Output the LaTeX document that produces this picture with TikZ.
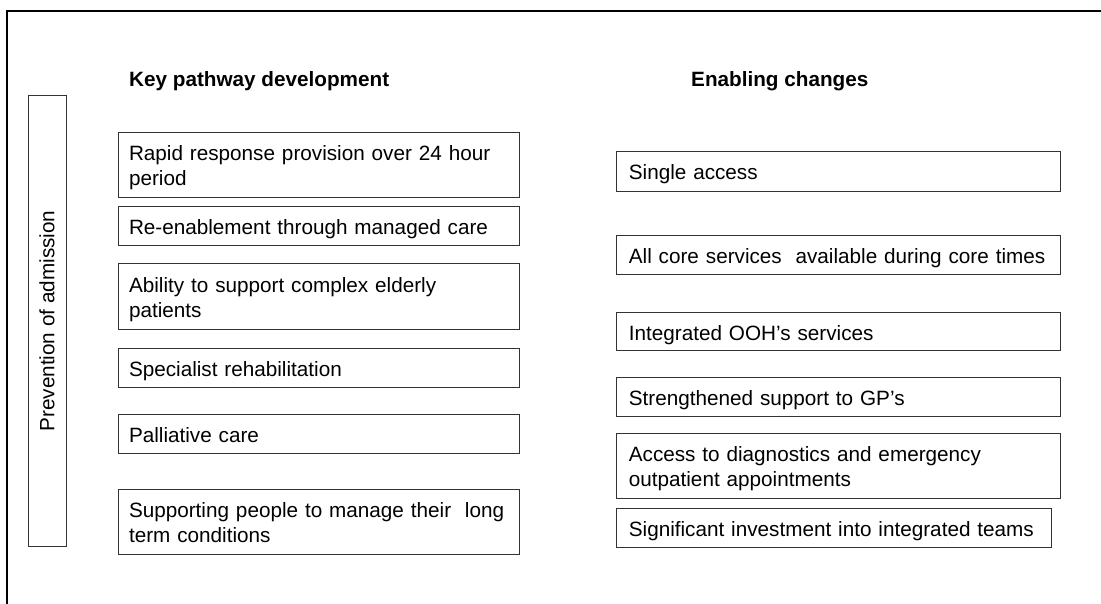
\documentclass[tikz,border=0pt]{standalone}
\usepackage{fontspec}
\setmainfont{Liberation Sans}
\usepackage{tikz}

\begin{document}
\begin{tikzpicture}[x=1pt,y=-1pt,
  font=\fontsize{20.7pt}{25pt}\selectfont,
  pathbox/.style={draw=black!80,line width=1pt,text width=379pt,inner xsep=11pt,inner ysep=0pt,align=left,text height=28pt,text depth=11pt},
  enablebox/.style={draw=black!80,line width=1pt,text width=420pt,inner xsep=12pt,inner ysep=0pt,align=left,text height=28pt,text depth=11pt},
  tall/.style={text depth=37pt},
  heading/.style={font=\fontsize{20.7pt}{25pt}\selectfont\bfseries,anchor=base west,inner sep=0pt}]
\useasboundingbox (0,0) rectangle (1101,604);
\draw[line width=2pt] (7,604) -- (7,11) -- (1101,11);

\node[heading] (keyhead) at (129,87) {Key pathway development};
\node[heading] (enablehead) at (691,87) {Enabling changes};

\node[draw=black!80,line width=1pt,rotate=90,minimum width=450pt,minimum height=38pt,inner sep=0pt] (prevention) at (47,321) {Prevention of admission};

\node[pathbox,tall] (rapid) at (318.5,165.5) {Rapid response provision over 24 hour\\period};
\node[pathbox] (reenable) at (318.5,226.5) {Re-enablement through managed care};
\node[pathbox,tall] (complex) at (318.5,296.5) {Ability to support complex elderly\\patients};
\node[pathbox] (rehab) at (318.5,367.5) {Specialist rehabilitation};
\node[pathbox] (palliative) at (318.5,433.5) {Palliative care};
\node[pathbox,tall] (longterm) at (318.5,521.5) {Supporting people to manage their\ \ long\\term conditions};

\node[enablebox,text depth=12pt] (single) at (838.85,171.5) {Single access};
\node[enablebox] (coretimes) at (838.85,255.5) {All core services\ \ available during core times};
\node[enablebox,text depth=10pt] (ooh) at (838.85,331) {Integrated OOH’s services};
\node[enablebox] (gp) at (838.85,396.5) {Strengthened support to GP’s};
\node[enablebox,tall] (diagnostics) at (838.85,465.5) {Access to diagnostics and emergency\\outpatient appointments};
\node[enablebox,text width=411pt] (invest) at (834.35,527.5) {Significant investment into integrated teams};
\end{tikzpicture}
\end{document}
